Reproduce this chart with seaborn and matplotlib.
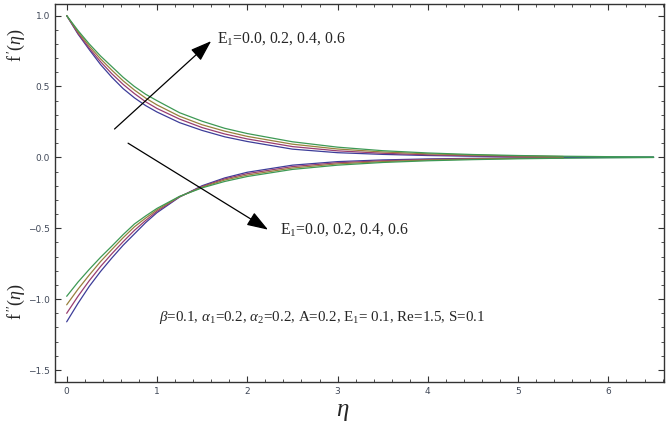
import numpy as np
import pandas as pd
import matplotlib
matplotlib.use("Agg")
import matplotlib.pyplot as plt
from matplotlib.ticker import MultipleLocator
import seaborn as sns

# ---------------- data ----------------
eta = [0, 0.125, 0.25, 0.375, 0.5, 0.625, 0.75, 0.875, 1.0, 1.25, 1.5, 1.75, 2.0,
       2.5, 3.0, 3.5, 4.0, 4.5, 5.0, 5.5, 6.0, 6.5]
e1_labels = ["0.0", "0.2", "0.4", "0.6"]

fp_e00 = [1.0, 0.87, 0.76, 0.655, 0.565, 0.485, 0.42, 0.365, 0.32, 0.245, 0.19, 0.145, 0.112,
          0.058, 0.033, 0.021, 0.013, 0.008, 0.005, 0.003, 0.002, 0.001]
fp_e02 = [1.0, 0.875, 0.77, 0.675, 0.59, 0.515, 0.45, 0.392, 0.345, 0.27, 0.21, 0.165, 0.13,
          0.076, 0.046, 0.029, 0.018, 0.011, 0.007, 0.004]
fp_e04 = [1.0, 0.885, 0.785, 0.695, 0.615, 0.54, 0.475, 0.418, 0.37, 0.29, 0.23, 0.185, 0.148,
          0.093, 0.059, 0.038, 0.025, 0.016, 0.010, 0.006]
fp_e06 = [1.0, 0.895, 0.80, 0.715, 0.64, 0.565, 0.50, 0.445, 0.40, 0.315, 0.255, 0.205, 0.168,
          0.110, 0.072, 0.047, 0.031, 0.020, 0.013, 0.008, 0.005, 0.003]

fpp_e00 = [-1.16, -1.03, -0.91, -0.805, -0.71, -0.62, -0.54, -0.46, -0.39, -0.28, -0.20, -0.145,
           -0.105, -0.055, -0.030, -0.018, -0.011, -0.007, -0.004, -0.002, -0.001, 0.0]
fpp_e02 = [-1.10, -0.98, -0.87, -0.77, -0.68, -0.595, -0.515, -0.445, -0.38, -0.278, -0.205,
           -0.152, -0.115, -0.065, -0.038, -0.024, -0.015, -0.009, -0.005, -0.003]
fpp_e04 = [-1.04, -0.93, -0.83, -0.735, -0.65, -0.567, -0.49, -0.428, -0.37, -0.277, -0.21,
           -0.16, -0.125, -0.075, -0.046, -0.030, -0.019, -0.012, -0.007, -0.004]
fpp_e06 = [-0.98, -0.88, -0.79, -0.705, -0.626, -0.545, -0.47, -0.413, -0.36, -0.275, -0.215,
           -0.17, -0.135, -0.085, -0.055, -0.036, -0.024, -0.016, -0.010, -0.006, -0.003, -0.001]

colors = ["#3d3d99", "#993d70", "#99803d", "#3d9954"]

# ---------------- long-form table ----------------
rows = []
for lab, fp, fpp in zip(e1_labels,
                        [fp_e00, fp_e02, fp_e04, fp_e06],
                        [fpp_e00, fpp_e02, fpp_e04, fpp_e06]):
    for x, y in zip(eta, fp):
        rows.append(dict(eta=x, val=y, E1=lab, fn="fp"))
    for x, y in zip(eta, fpp):
        rows.append(dict(eta=x, val=y, E1=lab, fn="fpp"))
df = pd.DataFrame(rows)

sns.set_style("ticks")
plt.rcParams["mathtext.fontset"] = "custom"
plt.rcParams["mathtext.rm"] = "Liberation Serif"
plt.rcParams["mathtext.it"] = "Liberation Serif:italic"
plt.rcParams["mathtext.bf"] = "Liberation Serif:bold"

fig = plt.figure(figsize=(6.7, 4.25), dpi=100)
ax = fig.add_axes([0.082, 0.101, 0.909, 0.890])

sns.lineplot(data=df, x="eta", y="val", hue="E1", units="fn", estimator=None,
             palette=colors, hue_order=e1_labels, sort=False, linewidth=0.9,
             legend=False, ax=ax)

ax.set_xlim(-0.13, 6.615)
ax.set_ylim(-1.585, 1.083)
ax.set_xticks([0, 1, 2, 3, 4, 5, 6])
ax.set_yticks([-1.5, -1.0, -0.5, 0.0, 0.5, 1.0])
ax.set_yticklabels(["\u22121.5", "\u22121.0", "\u22120.5", "0.0", "0.5", "1.0"])
ax.xaxis.set_minor_locator(MultipleLocator(0.2))
ax.yaxis.set_minor_locator(MultipleLocator(0.1))
ax.tick_params(which="both", direction="in", top=True, right=True,
               labelsize=6.5, labelcolor="#404858", color="#333333")
ax.tick_params(which="major", length=4, width=0.8)
ax.tick_params(which="minor", length=2, width=0.6)
for s in ax.spines.values():
    s.set_linewidth(1.0)
    s.set_color("#333333")
ax.set_xlabel("")
ax.set_ylabel("")

serif = "Liberation Serif"
fig.text(343 / 670, 1 - 411 / 425, r"$\eta$", fontsize=18, ha="center", va="center")
fig.text(16 / 670, 1 - 45 / 425, r"$\mathrm{f}\,'(\eta)$", fontsize=13,
         rotation=90, ha="center", va="center")
fig.text(16 / 670, 1 - 302 / 425, r"$\mathrm{f}\,''(\eta)$", fontsize=13,
         rotation=90, ha="center", va="center")

arrowprops = dict(arrowstyle="-|>,head_length=1.3,head_width=0.45", color="black",
                  lw=0.9, shrinkA=0, shrinkB=0)
ax.annotate("", xy=(1.6, 0.82), xytext=(0.53, 0.20), arrowprops=arrowprops)
ax.annotate("", xy=(2.23, -0.51), xytext=(0.68, 0.10), arrowprops=arrowprops)

ax.text(1.66, 0.835, r"E$_{1}$=0.0, 0.2, 0.4, 0.6", fontsize=11.3, family=serif,
        ha="left", va="center")
ax.text(2.36, -0.51, r"E$_{1}$=0.0, 0.2, 0.4, 0.6", fontsize=11.3, family=serif,
        ha="left", va="center")
ax.text(1.02, -1.13,
        r"$\beta$=0.1, $\alpha$$_{1}$=0.2, $\alpha$$_{2}$=0.2, A=0.2, E$_{1}$= 0.1, Re=1.5, S=0.1",
        fontsize=10.8, family=serif, ha="left", va="center")

fig.savefig("out.png", dpi=100)
